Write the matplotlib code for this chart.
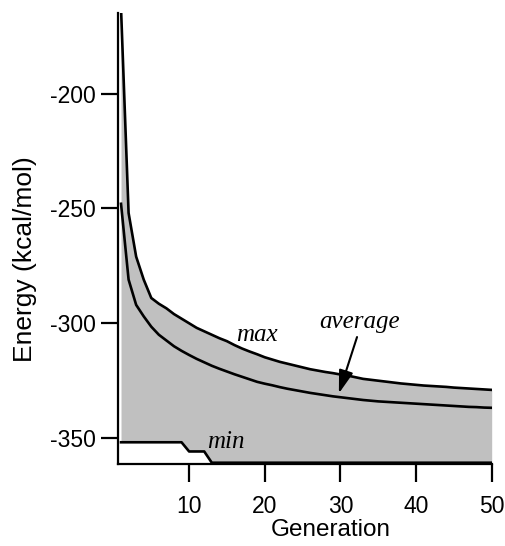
import matplotlib
matplotlib.use('Agg')
import matplotlib.pyplot as plt
import numpy

plt.rcParams['axes.unicode_minus'] = False
plt.rcParams['font.family'] = ['Liberation Sans', 'DejaVu Sans']

# values, one per generation
generations = list(range(1, 51))
max_energy = [-163, -252, -271, -281, -289, -291.5, -293.5, -296, -298, -300,
              -302, -303.5, -305, -306.5, -307.8, -309.5, -311, -312.3, -313.5, -314.8,
              -315.8, -316.8, -317.6, -318.4, -319.2, -320, -320.6, -321.2, -321.7, -322.3,
              -322.8, -323.5, -324.2, -324.6, -325, -325.4, -325.8, -326.2, -326.5, -326.8,
              -327.1, -327.3, -327.5, -327.7, -328, -328.2, -328.4, -328.6, -328.8, -329]
avg_energy = [-248, -281, -292, -297, -301.5, -305, -307.5, -310, -312, -313.8,
              -315.5, -317, -318.5, -319.8, -321, -322.2, -323.3, -324.4, -325.5, -326.3,
              -327, -327.8, -328.5, -329.1, -329.7, -330.3, -330.8, -331.3, -331.8, -332.2,
              -332.6, -333, -333.4, -333.7, -334, -334.2, -334.4, -334.6, -334.8, -335,
              -335.2, -335.4, -335.6, -335.8, -336, -336.2, -336.4, -336.5, -336.7, -336.8]
min_energy = [-351.8] * 9 + [-355.8] * 3 + [-360.7] * 38

x_ticks = [10, 20, 30, 40, 50]
y_ticks = [-350, -300, -250, -200]

fig = plt.figure(figsize=(5.06, 5.46), dpi=100)
ax = fig.add_axes([0.2332, 0.150, 0.7385, 0.826])

ax.fill_between(generations, min_energy, max_energy, color='#c0c0c0', linewidth=0)
for series in (max_energy, avg_energy, min_energy):
    ax.plot(generations, series, color='black', linewidth=1.9, solid_joinstyle='round')

ax.set_xlim(0.6, 50)
ax.set_ylim(-361.3, -165)
ax.set_xticks(x_ticks)
ax.set_yticks(y_ticks)

for side in ('top', 'right'):
    ax.spines[side].set_visible(False)
for side in ('left', 'bottom'):
    ax.spines[side].set_linewidth(1.6)

ax.tick_params(axis='y', direction='out', length=12, width=1.6, pad=4, labelsize=16.5)
ax.tick_params(axis='x', direction='out', length=13, width=1.6, pad=9, labelsize=16.5)

ax.set_xlabel('Generation', fontsize=17.5)
ax.xaxis.set_label_coords(0.570, -0.147)
ax.xaxis.label.set_va('center')
ax.set_ylabel('Energy (kcal/mol)', fontsize=19)
ax.yaxis.set_label_coords(-0.249, 0.454)
ax.yaxis.label.set_va('center')

serif = dict(family=['Liberation Serif', 'DejaVu Serif'], style='italic', fontsize=18)
ax.text(18.9, -305.2, 'max', ha='center', va='center', **serif)
ax.text(32.6, -299.6, 'average', ha='center', va='center', **serif)
ax.text(14.9, -351.8, 'min', ha='center', va='center', **serif)

ax.annotate('', xy=(29.8, -330.5), xytext=(32.2, -306),
            arrowprops=dict(arrowstyle='-|>,head_length=0.7,head_width=0.22',
                            color='black', lw=1.5, mutation_scale=20,
                            shrinkA=0, shrinkB=0))

plt.savefig('out.png', dpi=100)
plt.close()
